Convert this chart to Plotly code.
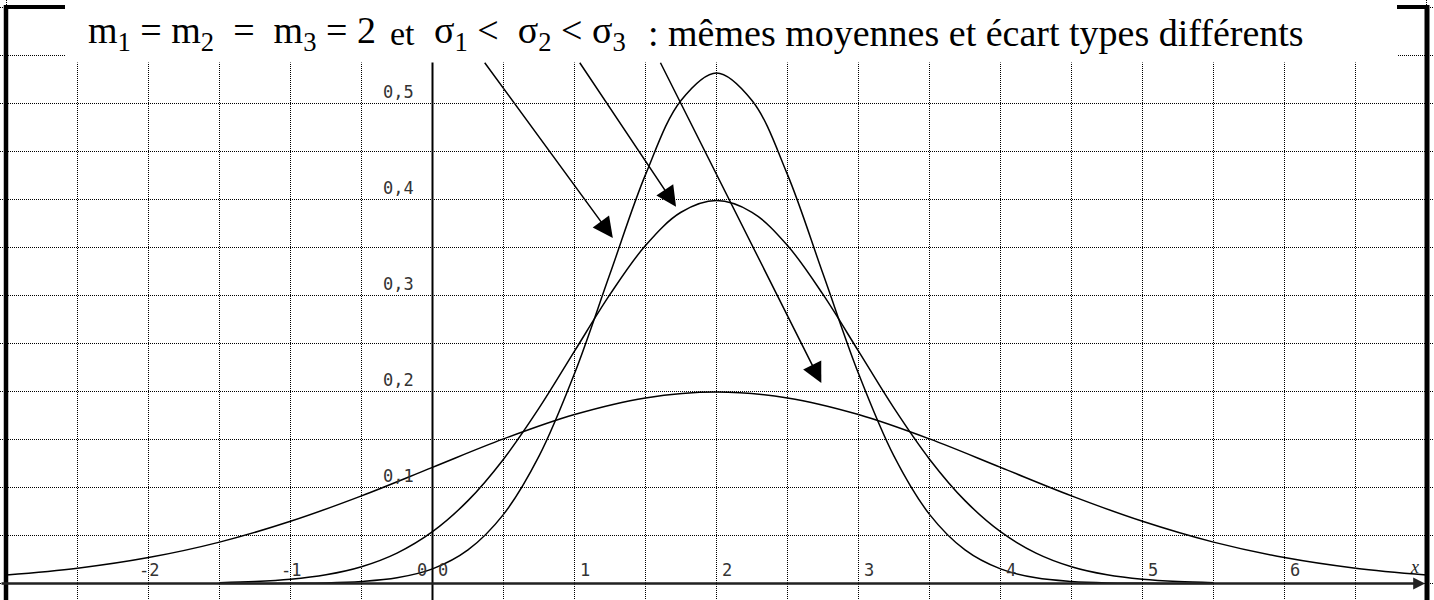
import plotly.graph_objects as go

# ---- data -------------------------------------------------------------
# density curves, common mean m = 2
x_wide = [-3, -2.5, -2, -1.5, -1, -0.5, 0, 0.5, 1, 1.5, 2, 2.5, 3, 3.5, 4,
          4.5, 5, 5.5, 6, 6.5, 7]
y_sigma2 = [0.0088, 0.0159, 0.0270, 0.0431, 0.0648, 0.0913, 0.1210, 0.1506,
            0.1760, 0.1933, 0.1995, 0.1933, 0.1760, 0.1506, 0.1210, 0.0913,
            0.0648, 0.0431, 0.0270, 0.0159, 0.0088]

x_narrow = [-1.5, -1.25, -1, -0.75, -0.5, -0.25, 0, 0.25, 0.5, 0.75, 1, 1.25,
            1.5, 1.75, 2, 2.25, 2.5, 2.75, 3, 3.25, 3.5, 3.75, 4, 4.25, 4.5,
            4.75, 5, 5.25, 5.5]
y_sigma1 = [0.0009, 0.0020, 0.0044, 0.0091, 0.0175, 0.0317, 0.0540, 0.0863,
            0.1295, 0.1826, 0.2420, 0.3011, 0.3521, 0.3867, 0.3989, 0.3867,
            0.3521, 0.3011, 0.2420, 0.1826, 0.1295, 0.0863, 0.0540, 0.0317,
            0.0175, 0.0091, 0.0044, 0.0020, 0.0009]
y_sigma075 = [0.0000, 0.0000, 0.0002, 0.0006, 0.0021, 0.0059, 0.0152, 0.0350,
              0.0720, 0.1326, 0.2187, 0.3226, 0.4259, 0.5032, 0.5319, 0.5032,
              0.4259, 0.3226, 0.2187, 0.1326, 0.0720, 0.0350, 0.0152, 0.0059,
              0.0021, 0.0006, 0.0002, 0.0000, 0.0000]

x_tick_vals = [-2, -1, 0, 1, 2, 3, 4, 5, 6]
x_tick_text = ["-2", "-1", "0", "1", "2", "3", "4", "5", "6"]
y_tick_vals = [0.1, 0.2, 0.3, 0.4, 0.5]
y_tick_text = ["0,1", "0,2", "0,3", "0,4", "0,5"]

# arrows: (start x, start y) -> (tip x, tip y)
arrow_start_x = [0.36, 1.03, 1.60]
arrow_start_y = [0.544, 0.544, 0.544]
arrow_tip_x = [1.27, 1.715, 2.738]
arrow_tip_y = [0.360, 0.3925, 0.2088]

# ---- layout helpers ---------------------------------------------------
W, H = 1434, 600
# 142 px per x unit, 960 px per y unit, origin at (432.5, 583.5)
X_RANGE = [-432.5 / 142, (W - 432.5) / 142]
Y_RANGE = [(583.5 - H) / 960, 583.5 / 960]


def px(x):
    return x / W


def py(y):
    return 1 - y / H


TICK_FONT = dict(family="DejaVu Sans Mono", size=17, color="#333333")
SERIF = "Liberation Serif"

fig = go.Figure()

for xs, ys in [(x_wide, y_sigma2), (x_narrow, y_sigma1), (x_narrow, y_sigma075)]:
    fig.add_trace(go.Scatter(x=xs, y=ys, mode="lines",
                             line=dict(color="black", width=1.5, shape="spline"),
                             hoverinfo="skip", showlegend=False))

shapes = []
# y axis
shapes.append(dict(type="line", xref="x", yref="y", x0=0, x1=0,
                   y0=Y_RANGE[0], y1=Y_RANGE[1],
                   line=dict(color="black", width=2), layer="above"))
# frame
shapes.append(dict(type="line", xref="paper", yref="paper",
                   x0=px(6), x1=px(6), y0=py(5), y1=0,
                   line=dict(color="black", width=4.5), layer="above"))
shapes.append(dict(type="line", xref="paper", yref="paper",
                   x0=px(1427), x1=px(1427), y0=py(5), y1=0,
                   line=dict(color="black", width=5), layer="above"))
shapes.append(dict(type="line", xref="paper", yref="paper",
                   x0=px(4), x1=px(1429), y0=py(7), y1=py(7),
                   line=dict(color="black", width=4), layer="above"))
# title panel
shapes.append(dict(type="rect", xref="paper", yref="paper",
                   x0=px(65), x1=px(1397), y0=py(62.5), y1=1,
                   fillcolor="white", line=dict(width=0), layer="above"))

annotations = []
# x axis with arrow
annotations.append(dict(x=6.99, y=0, ax=X_RANGE[0], ay=0, xref="x", yref="y",
                        axref="x", ayref="y", text="", showarrow=True,
                        arrowhead=2, arrowsize=0.95, arrowwidth=2.5,
                        arrowcolor="#222222"))
annotations.append(dict(x=6.99, y=0, xref="x", yref="y", text="<i>x</i>",
                        showarrow=False, xanchor="right", yanchor="middle",
                        xshift=-4, yshift=17,
                        font=dict(family=SERIF, size=18, color="#222222")))

for v, t in zip(x_tick_vals, x_tick_text):
    shift = -12 if v < 0 else 3
    annotations.append(dict(x=v, y=0, xref="x", yref="y", text=t,
                            showarrow=False, xanchor="left", yanchor="middle",
                            xshift=shift, yshift=14, font=TICK_FONT))
annotations.append(dict(x=0, y=0, xref="x", yref="y", text="0",
                        showarrow=False, xanchor="left", yanchor="middle",
                        xshift=-18, yshift=14, font=TICK_FONT))

for v, t in zip(y_tick_vals, y_tick_text):
    annotations.append(dict(x=0, y=v, xref="x", yref="y", text=t,
                            showarrow=False, xanchor="right", yanchor="middle",
                            xshift=-17, yshift=12, font=TICK_FONT))

for sx, sy, tx, ty in zip(arrow_start_x, arrow_start_y, arrow_tip_x, arrow_tip_y):
    annotations.append(dict(x=tx, y=ty, ax=sx, ay=sy, xref="x", yref="y",
                            axref="x", ayref="y", text="", showarrow=True,
                            arrowhead=2, arrowsize=2.7, arrowwidth=1.5,
                            arrowcolor="black"))

NB = "\u00a0"
title_parts = [
    ("m<sub>1</sub> = m<sub>2</sub>" + NB * 2 + "=" + NB * 2 + "m<sub>3</sub> = 2", 86, 38),
    ("et", 388, 34),
    ("σ<sub>1</sub> <" + NB * 2 + "σ<sub>2</sub> < σ<sub>3</sub>", 432, 38),
]
for txt, left, size in title_parts:
    annotations.append(dict(x=px(left), y=py(33), xref="paper", yref="paper",
                            text=txt, showarrow=False, xanchor="left",
                            yanchor="middle",
                            font=dict(family=SERIF, size=size, color="black")))
annotations.append(dict(x=px(1306), y=py(33), xref="paper", yref="paper",
                        text=": mêmes moyennes et écart types différents",
                        showarrow=False, xanchor="right", yanchor="middle",
                        font=dict(family=SERIF, size=38, color="black")))

fig.update_layout(
    width=W, height=H, autosize=False,
    margin=dict(l=0, r=0, t=0, b=0),
    paper_bgcolor="white", plot_bgcolor="white",
    shapes=shapes, annotations=annotations,
    xaxis=dict(range=X_RANGE, showgrid=True, dtick=0.5, tick0=0,
               gridcolor="black", gridwidth=1, griddash="1px,1px",
               zeroline=False, showticklabels=False, ticks="",
               showline=False, fixedrange=True),
    yaxis=dict(range=Y_RANGE, showgrid=True, dtick=0.05, tick0=0,
               gridcolor="black", gridwidth=1, griddash="1px,1px",
               zeroline=False, showticklabels=False, ticks="",
               showline=False, fixedrange=True),
)

fig.write_html("out.html")
